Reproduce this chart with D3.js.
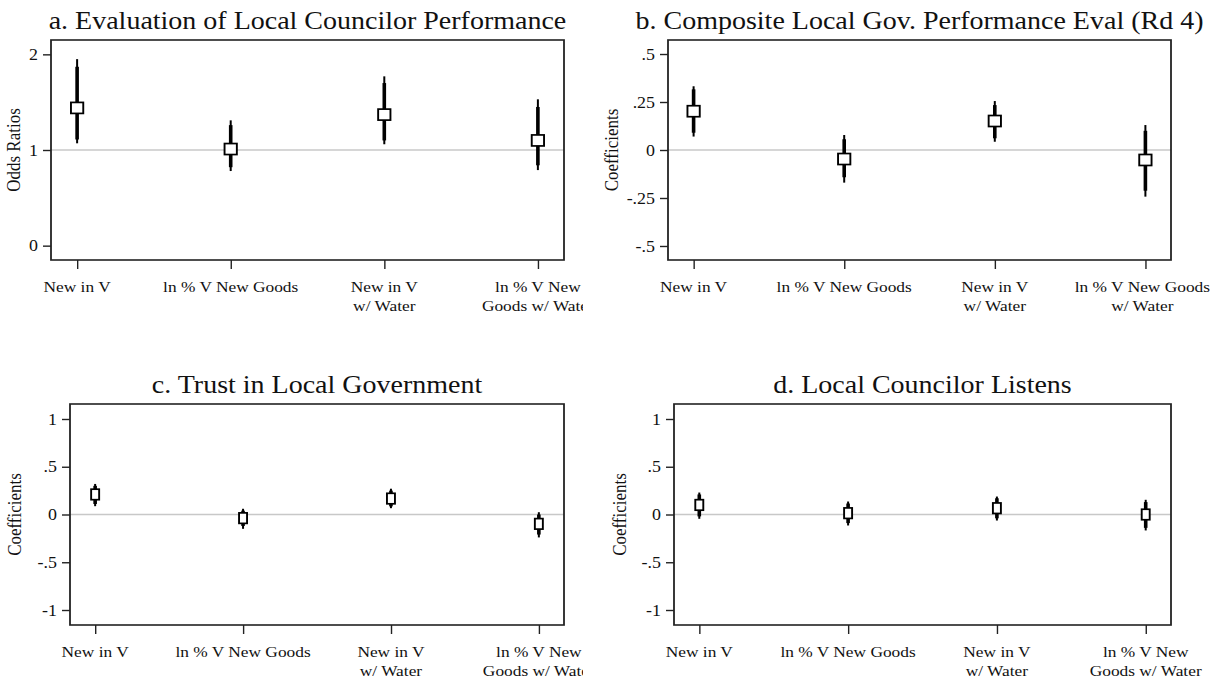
<!DOCTYPE html>
<html>
<head>
<meta charset="utf-8">
<script src="https://cdn.jsdelivr.net/npm/d3@7"></script>
<style>
  html, body { margin: 0; padding: 0; background: #fff; }
  svg { display: block; }
  text { font-family: "Liberation Serif", "Times New Roman", serif; fill: #111; }
</style>
</head>
<body>
<svg id="chart" width="1213" height="679"></svg>
<script>
// ---- data ----------------------------------------------------------------
const categories = ["New in V", "ln % V New Goods", "New in V w/ Water", "ln % V New Goods w/ Water"];

// how each category label is broken into lines, per panel
const labelLinesA = [["New in V"], ["ln % V New Goods"], ["New in V", "w/ Water"], ["ln % V New", "Goods w/ Water"]];
const labelLinesB = [["New in V"], ["ln % V New Goods"], ["New in V", "w/ Water"], ["ln % V New Goods", "w/ Water"]];
const labelLinesC = [["New in V"], ["ln % V New Goods"], ["New in V", "w/ Water"], ["ln % V New", "Goods w/ Water"]];
const labelLinesD = [["New in V"], ["ln % V New Goods"], ["New in V", "w/ Water"], ["ln % V New", "Goods w/ Water"]];

const panelTitles = [
  "a. Evaluation of Local Councilor Performance",
  "b. Composite Local Gov. Performance Eval (Rd 4)",
  "c. Trust in Local Government",
  "d. Local Councilor Listens"
];
const yTitles = ["Odds Ratios", "Coefficients", "Coefficients", "Coefficients"];

const yTicksA = [0, 1, 2];
const yTickLabelsA = ["0", "1", "2"];
const yTicksB = [-0.5, -0.25, 0, 0.25, 0.5];
const yTickLabelsB = ["-.5", "-.25", "0", ".25", ".5"];
const yTicksCD = [-1, -0.5, 0, 0.5, 1];
const yTickLabelsCD = ["-1", "-.5", "0", ".5", "1"];

const refValues = [1, 0, 0, 0];

// a. odds ratios with 90% (thick) and 95% (thin) intervals
const estA   = [1.44, 1.01, 1.37, 1.10];
const lo90A  = [1.11, 0.82, 1.10, 0.84];
const hi90A  = [1.87, 1.26, 1.70, 1.45];
const lo95A  = [1.07, 0.78, 1.06, 0.79];
const hi95A  = [1.95, 1.31, 1.77, 1.53];

// b. coefficients
const estB   = [0.202, -0.047, 0.151, -0.052];
const lo90B  = [0.090, -0.142, 0.061, -0.212];
const hi90B  = [0.316, 0.056, 0.234, 0.100];
const lo95B  = [0.070, -0.170, 0.043, -0.243];
const hi95B  = [0.332, 0.078, 0.255, 0.130];

// c. coefficients
const estC   = [0.21, -0.038, 0.167, -0.098];
const lo90C  = [0.11, -0.12, 0.085, -0.21];
const hi90C  = [0.30, 0.04, 0.25, 0.00];
const lo95C  = [0.087, -0.15, 0.066, -0.24];
const hi95C  = [0.32, 0.06, 0.27, 0.024];

// d. coefficients
const estD   = [0.10, 0.014, 0.066, 0.0];
const lo90D  = [-0.02, -0.09, -0.04, -0.14];
const hi90D  = [0.21, 0.115, 0.17, 0.13];
const lo95D  = [-0.045, -0.115, -0.063, -0.167];
const hi95D  = [0.23, 0.136, 0.188, 0.154];

// ---- layout (page pixels) ------------------------------------------------
const SX = 1.12; // the whole figure is drawn slightly widened horizontally
const panels = [
  { title: panelTitles[0], yTitle: yTitles[0], ticks: yTicksA, tickLabels: yTickLabelsA, ref: refValues[0],
    est: estA, lo90: lo90A, hi90: hi90A, lo95: lo95A, hi95: hi95A, lines: labelLinesA,
    box: { x0: 51, x1: 564, y0: 40, y1: 260 }, yDomain: [-0.15, 2.15], titleY: 29, yTitleX: 14,
    clip: [0, 583], mw: 12.3, mh: 11 },
  { title: panelTitles[1], yTitle: yTitles[1], ticks: yTicksB, tickLabels: yTickLabelsB, ref: refValues[1],
    est: estB, lo90: lo90B, hi90: hi90B, lo95: lo95B, hi95: hi95B, lines: labelLinesB,
    box: { x0: 668, x1: 1171, y0: 40, y1: 260 }, yDomain: [-0.573, 0.573], titleY: 29, yTitleX: 612,
    clip: [600, 1213], mw: 12.3, mh: 11 },
  { title: panelTitles[2], yTitle: yTitles[2], ticks: yTicksCD, tickLabels: yTickLabelsCD, ref: refValues[2],
    est: estC, lo90: lo90C, hi90: hi90C, lo95: lo95C, hi95: hi95C, lines: labelLinesC,
    box: { x0: 70, x1: 564, y0: 404, y1: 625 }, yDomain: [-1.157, 1.157], titleY: 393, yTitleX: 15,
    clip: [0, 583], mw: 8, mh: 10.5 },
  { title: panelTitles[3], yTitle: yTitles[3], ticks: yTicksCD, tickLabels: yTickLabelsCD, ref: refValues[3],
    est: estD, lo90: lo90D, hi90: hi90D, lo95: lo95D, hi95: hi95D, lines: labelLinesD,
    box: { x0: 674, x1: 1171, y0: 404, y1: 625 }, yDomain: [-1.157, 1.157], titleY: 393, yTitleX: 620,
    clip: [600, 1213], mw: 8, mh: 10.5 }
];

// ---- drawing -------------------------------------------------------------
const svg = d3.select("#chart");
const defs = svg.append("defs");
const root = svg.append("g").attr("transform", `scale(${SX},1)`);
const lx = px => px / SX;   // page x -> drawing x
const PAGE_RIGHT = 1210;    // category labels are kept inside the page

panels.forEach((p, i) => {
  const clipId = "clip" + i;
  defs.append("clipPath").attr("id", clipId)
    .append("rect").attr("x", lx(p.clip[0])).attr("y", 0)
    .attr("width", lx(p.clip[1] - p.clip[0])).attr("height", 679);

  const g = root.append("g").attr("clip-path", `url(#${clipId})`);

  const x = d3.scalePoint().domain(categories).range([lx(p.box.x0), lx(p.box.x1)]).padding(0.17);
  const y = d3.scaleLinear().domain(p.yDomain).range([p.box.y1, p.box.y0]);

  // reference line
  g.append("line")
    .attr("x1", lx(p.box.x0)).attr("x2", lx(p.box.x1))
    .attr("y1", y(p.ref)).attr("y2", y(p.ref))
    .attr("stroke", "#c8c8c8").attr("stroke-width", 1.6);

  // plot region outline
  g.append("rect")
    .attr("x", lx(p.box.x0)).attr("y", p.box.y0)
    .attr("width", lx(p.box.x1) - lx(p.box.x0)).attr("height", p.box.y1 - p.box.y0)
    .attr("fill", "none").attr("stroke", "#222").attr("stroke-width", 1.6);

  const rows = categories.map((c, k) => ({ c, est: p.est[k], lo90: p.lo90[k], hi90: p.hi90[k], lo95: p.lo95[k], hi95: p.hi95[k] }));

  // 95% intervals (thin)
  g.selectAll(".ci95").data(rows).join("line")
    .attr("x1", d => x(d.c)).attr("x2", d => x(d.c))
    .attr("y1", d => y(d.lo95)).attr("y2", d => y(d.hi95))
    .attr("stroke", "#000").attr("stroke-width", 2.0 / SX);

  // 90% intervals (thick)
  g.selectAll(".ci90").data(rows).join("line")
    .attr("x1", d => x(d.c)).attr("x2", d => x(d.c))
    .attr("y1", d => y(d.lo90)).attr("y2", d => y(d.hi90))
    .attr("stroke", "#000").attr("stroke-width", 3.6 / SX);

  // point estimates: hollow squares
  g.selectAll(".pt").data(rows).join("rect")
    .attr("x", d => x(d.c) - lx(p.mw) / 2).attr("y", d => y(d.est) - p.mh / 2)
    .attr("width", lx(p.mw)).attr("height", p.mh)
    .attr("fill", "#fff").attr("stroke", "#000").attr("stroke-width", 1.7);

  // y axis
  const yAxis = d3.axisLeft(y).tickValues(p.ticks)
    .tickFormat((v, k) => p.tickLabels[k]).tickSize(lx(8)).tickPadding(lx(5));
  const ya = g.append("g").attr("transform", `translate(${lx(p.box.x0)},0)`).call(yAxis);
  ya.select(".domain").remove();
  ya.selectAll(".tick line").attr("stroke", "#222").attr("stroke-width", 1.4);
  ya.selectAll(".tick text").attr("font-size", 16).attr("font-family", "Liberation Serif").attr("fill", "#111");

  // x axis (ticks only, labels written below as multi-line text)
  const xAxis = d3.axisBottom(x).tickSize(9).tickFormat("");
  const xa = g.append("g").attr("transform", `translate(0,${p.box.y1})`).call(xAxis);
  xa.select(".domain").remove();
  xa.selectAll(".tick line").attr("stroke", "#222").attr("stroke-width", 1.4 / SX);

  const lab = g.selectAll(".xlab").data(categories).join("text")
    .attr("text-anchor", "middle").attr("font-size", 15.5)
    .attr("y", p.box.y1 + 32);
  lab.each(function (d, k) {
    const t = d3.select(this);
    t.selectAll("tspan").data(p.lines[k]).join("tspan")
      .attr("x", x(d)).attr("dy", (s, j) => j === 0 ? 0 : 19).text(s => s);
    // labels that would run past the page edge are nudged left
    if (p.clip[1] >= 1213) {
      const b = this.getBBox();
      const over = (b.x + b.width) * SX - PAGE_RIGHT;
      if (over > 0) t.selectAll("tspan").attr("x", x(d) - over / SX);
    }
  });

  // panel title
  g.append("text")
    .attr("x", (lx(p.box.x0) + lx(p.box.x1)) / 2).attr("y", p.titleY)
    .attr("text-anchor", "middle").attr("font-size", 25).text(p.title);

  // y-axis title
  const yc = (p.box.y0 + p.box.y1) / 2;
  g.append("text")
    .attr("transform", `translate(${lx(p.yTitleX + 6)},${yc}) rotate(-90)`)
    .attr("text-anchor", "middle").attr("font-size", 17).text(p.yTitle);
});
</script>
</body>
</html>
